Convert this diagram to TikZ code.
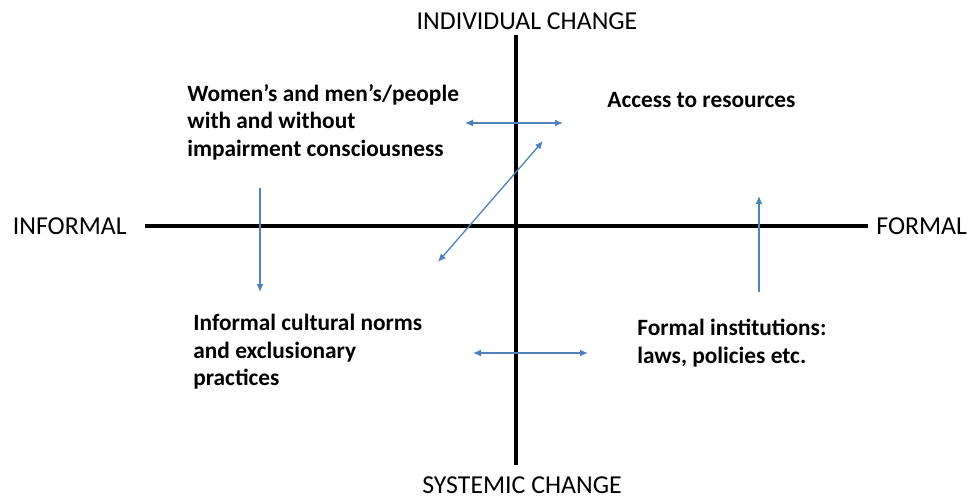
\documentclass[tikz,border=0pt]{standalone}
\usepackage{fontspec}
\setmainfont{Carlito}
\usepackage{xcolor}
\usetikzlibrary{arrows.meta,positioning}
\definecolor{axisblack}{RGB}{0,0,0}
\definecolor{officeblue}{RGB}{79,129,189}

\begin{document}
\begin{tikzpicture}[x=0.02cm, y=-0.02cm,
    axislabel/.style={font=\fontsize{14.7}{17.6}\selectfont, inner sep=0pt},
    quadtext/.style={font=\bfseries\fontsize{13.3}{15.7}\selectfont, align=left,
        anchor=north west, inner sep=0pt},
    axisline/.style={line width=1.8pt, axisblack},
    arr/.style={-{Latex[length=1.6mm,width=1.4mm]}, line width=0.75pt, officeblue},
    darr/.style={{Latex[length=1.6mm,width=1.4mm]}-{Latex[length=1.6mm,width=1.4mm]}, line width=0.75pt, officeblue}
]
    \useasboundingbox (0,0) rectangle (968,500);

    % Axes
    \coordinate (west) at (145,226);
    \coordinate (east) at (868,226);
    \coordinate (north) at (516,35);
    \coordinate (south) at (516,465);
    \draw[axisline] (west) -- (east);
    \draw[axisline] (north) -- (south);

    % Axis labels
    \node[axislabel] (indiv) at (527,21) {INDIVIDUAL CHANGE};
    \node[axislabel] (syst) at (522,485) {SYSTEMIC CHANGE};
    \node[axislabel, anchor=east] (informal) at (127,226) {INFORMAL};
    \node[axislabel, anchor=west] (formal) at (876,226) {FORMAL};

    % Quadrant texts
    \node[quadtext] (consc) at (187,84) {Women’s and men’s/people\\with and without\\impairment consciousness};
    \node[quadtext] (access) at (607,92) {Access to resources};
    \node[quadtext] (norms) at (193,314) {Informal cultural norms\\and exclusionary\\practices};
    \node[quadtext] (inst) at (637,319) {Formal institutions:\\laws, policies etc.};

    % Arrows between the quadrants
    \coordinate (ca) at (465,123);
    \coordinate (cb) at (563,123);
    \draw[darr] (ca) -- (cb);

    \coordinate (da) at (438,262);
    \coordinate (db) at (543,141);
    \draw[darr] (da) -- (db);

    \coordinate (la) at (260,188);
    \coordinate (lb) at (260,292);
    \draw[arr] (la) -- (lb);

    \coordinate (ra) at (759,292);
    \coordinate (rb) at (759,196);
    \draw[arr] (ra) -- (rb);

    \coordinate (ba) at (473,353);
    \coordinate (bb) at (588,353);
    \draw[darr] (ba) -- (bb);
\end{tikzpicture}
\end{document}
